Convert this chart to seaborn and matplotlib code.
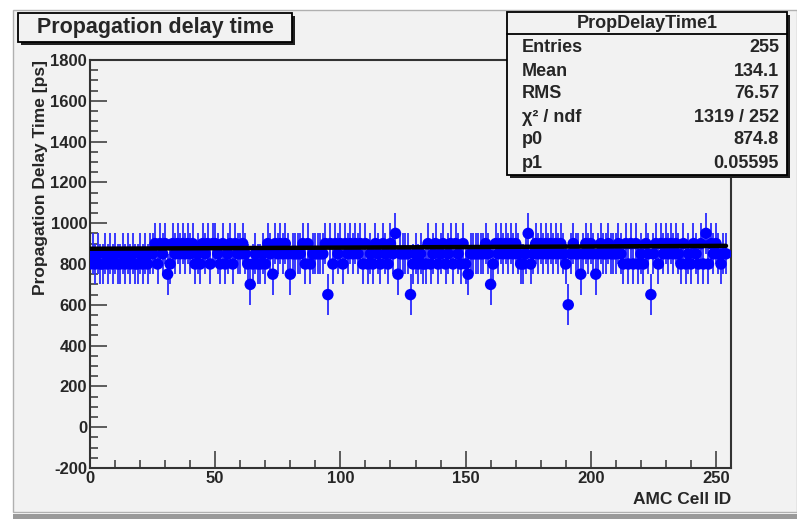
import numpy as np
import pandas as pd
import seaborn as sns
import matplotlib.pyplot as plt
from matplotlib.patches import Rectangle

# Propagation delay per AMC cell (ps)
delay = [
    800, 850, 800, 850, 800, 800, 850, 800, 850, 800,
    850, 800, 800, 850, 800, 850, 800, 850, 800, 800,
    850, 800, 850, 800, 850, 850, 900, 800, 900, 850,
    900, 750, 800, 900, 850, 900, 850, 900, 850, 900,
    850, 900, 800, 850, 800, 900, 850, 900, 800, 900,
    900, 850, 800, 900, 800, 850, 900, 800, 900, 850,
    850, 900, 850, 800, 700, 800, 850, 800, 800, 850,
    800, 900, 850, 750, 900, 850, 900, 850, 900, 850,
    750, 850, 850, 850, 850, 900, 800, 900, 800, 850,
    850, 850, 850, 850, 900, 650, 900, 800, 900, 850,
    900, 800, 900, 850, 900, 850, 900, 850, 900, 800,
    900, 800, 850, 800, 900, 850, 800, 900, 850, 800,
    900, 850, 950, 750, 850, 850, 850, 850, 650, 800,
    850, 800, 850, 800, 800, 900, 800, 850, 900, 800,
    850, 900, 800, 850, 900, 800, 900, 850, 800, 900,
    800, 750, 850, 850, 850, 850, 850, 850, 900, 850,
    700, 800, 900, 850, 900, 850, 900, 850, 900, 850,
    900, 850, 800, 800, 850, 950, 800, 850, 900, 850,
    900, 850, 900, 850, 900, 850, 900, 850, 900, 850,
    800, 600, 850, 900, 850, 850, 750, 850, 900, 850,
    900, 850, 750, 850, 900, 850, 850, 900, 850, 850,
    850, 900, 850, 800, 900, 800, 900, 800, 900, 800,
    850, 800, 900, 850, 650, 850, 900, 800, 900, 850,
    900, 850, 900, 850, 900, 850, 800, 900, 800, 850,
    800, 900, 850, 800, 900, 800, 950, 800, 900, 850,
    900, 850, 800, 850, 850,
]
delay_err = 100
cell_id = np.arange(len(delay))

# fit result (pol1)
p0, p1 = 874.8, 0.05595
fit_x = [0, 254]

stats_labels = ["Entries", "Mean", "RMS", "\u03c7\u00b2 / ndf", "p0", "p1"]
stats_values = ["255", "134.1", "76.57", "1319 / 252", "874.8", "0.05595"]

df = pd.DataFrame({"cell": cell_id, "delay": delay})
fit = pd.DataFrame({"x": fit_x, "y": [p0 + p1 * x for x in fit_x]})

sns.set_style("ticks")
plt.rcParams['font.family'] = ['Liberation Sans', 'DejaVu Sans']
plt.rcParams['font.weight'] = 'bold'
plt.rcParams['axes.unicode_minus'] = False

W, H = 797, 519
bg = '#f2f2f2'
fig = plt.figure(figsize=(W / 100, H / 100), dpi=100, facecolor='white')


def fx(x):
    return x / W


def fy(y):
    return 1 - y / H


# canvas pad
fig.add_artist(Rectangle((fx(13), fy(512)), fx(784), 502 / H, transform=fig.transFigure,
                         facecolor=bg, edgecolor='#b0b0b0', lw=1, zorder=-5))
fig.add_artist(Rectangle((fx(13), fy(519)), fx(784), 5 / H, transform=fig.transFigure,
                         facecolor='#9a9a9a', edgecolor='none', zorder=-5))

ax = fig.add_axes([fx(90), fy(468), fx(731 - 90), (468 - 60) / H])
ax.set_facecolor(bg)

ax.errorbar(df["cell"], df["delay"], yerr=delay_err, fmt='none', ecolor='#2a2aff',
            elinewidth=1.3, capsize=0, zorder=2)
sns.scatterplot(data=df, x="cell", y="delay", color='#0000ff', s=68, edgecolor='none',
                linewidth=0, ax=ax, zorder=3)
sns.lineplot(data=fit, x="x", y="y", color='black', lw=3.2, ax=ax, zorder=4)

ax.set_xlim(0, 256)
ax.set_ylim(-200, 1800)
ax.set_xticks(np.arange(0, 251, 50))
ax.set_xticks(np.arange(0, 256, 10), minor=True)
ax.set_yticks(np.arange(-200, 1801, 200))
ax.set_yticks(np.arange(-200, 1801, 50), minor=True)
ax.tick_params(which='both', direction='in', color='#333333', width=1.1,
               labelsize=12, pad=2)
ax.tick_params(which='major', length=12)
ax.tick_params(which='minor', length=6)
for lab in ax.get_xticklabels() + ax.get_yticklabels():
    lab.set_fontweight('bold')
for sp in ax.spines.values():
    sp.set_color('#333333')
    sp.set_linewidth(1.5)

ax.set_xlabel("")
ax.set_ylabel("")
fig.text(fx(731), fy(500), "AMC Cell ID", ha='right', va='center', fontsize=12.5,
         fontweight='bold')
fig.text(fx(41), fy(60), "Propagation Delay Time [ps]", ha='center', va='top',
         rotation=90, fontsize=12.5, fontweight='bold')


def pave(x0, y0, x1, y1):
    # box with a ROOT-style drop shadow
    fig.add_artist(Rectangle((fx(x0 + 3), fy(y1 + 3)), fx(x1 - x0), (y1 - y0) / H,
                             transform=fig.transFigure, facecolor='#202020',
                             edgecolor='none', zorder=6))
    fig.add_artist(Rectangle((fx(x0), fy(y1)), fx(x1 - x0), (y1 - y0) / H,
                             transform=fig.transFigure, facecolor=bg,
                             edgecolor='black', lw=1.3, zorder=7))


# title
pave(18, 13, 292, 42)
fig.text(fx(155), fy(27.5), "Propagation delay time", ha='center', va='center',
         fontsize=15.5, fontweight='bold', zorder=8)

# stats box
pave(507, 12, 787, 175)
fig.add_artist(plt.Line2D([fx(507), fx(787)], [fy(34), fy(34)], transform=fig.transFigure,
                          color='black', lw=1.3, zorder=8))
fig.text(fx(647), fy(23), "PropDelayTime1", ha='center', va='center', fontsize=13,
         fontweight='bold', zorder=8)
for i, (lab, val) in enumerate(zip(stats_labels, stats_values)):
    y = 48 + i * 23
    fig.text(fx(522), fy(y), lab, ha='left', va='center', fontsize=13,
             fontweight='bold', zorder=8)
    fig.text(fx(779), fy(y), val, ha='right', va='center', fontsize=13,
             fontweight='bold', zorder=8)

fig.savefig("out.png", dpi=100, facecolor=fig.get_facecolor())
